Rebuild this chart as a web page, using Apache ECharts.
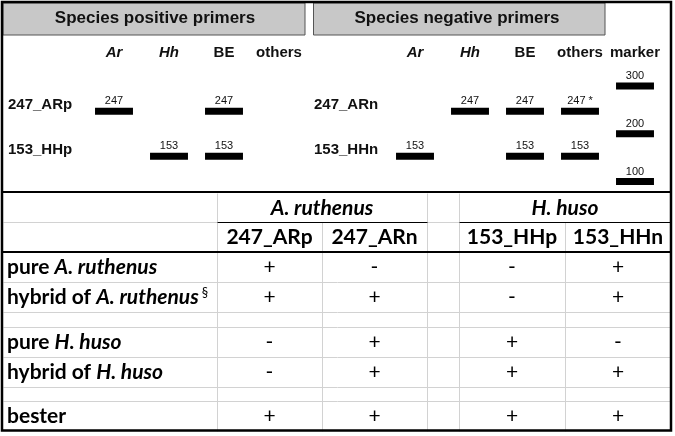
<!DOCTYPE html>
<html><head><meta charset="utf-8">
<script src="https://cdn.jsdelivr.net/npm/echarts@6/dist/echarts.min.js"></script>
<style>html,body{margin:0;padding:0;background:#fff}#c{width:675px;height:436px}</style>
</head><body><div id="c"></div><script>
// ---------- data ----------
const panelTitles = ['Species positive primers', 'Species negative primers'];
const posLanes = ['Ar', 'Hh', 'BE', 'others'];
const negLanes = ['Ar', 'Hh', 'BE', 'others', 'marker'];
const italicLanes = ['Ar', 'Hh'];
const posPrimers = ['247_ARp', '153_HHp'];
const negPrimers = ['247_ARn', '153_HHn'];
const primerSizes = [247, 153];
// [lane, size (bp), label]
const posBands = [['Ar', 247, '247'], ['BE', 247, '247'], ['Hh', 153, '153'], ['BE', 153, '153']];
const negBands = [['Hh', 247, '247'], ['BE', 247, '247'], ['others', 247, '247 *'],
                  ['Ar', 153, '153'], ['BE', 153, '153'], ['others', 153, '153']];
const markerSizes = [300, 200, 100];

const tableGroups = ['A. ruthenus', 'H. huso'];
const tableColumns = ['247_ARp', '247_ARn', '153_HHp', '153_HHn'];
const tableRows = ['pure A. ruthenus', 'hybrid of A. ruthenus§', '', 'pure H. huso', 'hybrid of H. huso', '', 'bester'];
const result247ARp = ['+', '+', '', '-', '-', '', '+'];
const result247ARn = ['-', '+', '', '+', '+', '', '+'];
const result153HHp = ['-', '-', '', '+', '+', '', '+'];
const result153HHn = ['+', '+', '', '-', '+', '', '+'];
const results = [result247ARp, result247ARn, result153HHp, result153HHn];

// ---------- layout ----------
const GEL_FONT = '"Liberation Sans", Arial, sans-serif';
const TAB_FONT = 'Lato, "Noto Sans", sans-serif';
const TAB_SIZE = 21;
const colW = [214, 105, 105, 32, 106, 106];
const rowH = [29, 30, 30, 30, 15, 30, 30, 14, 30];
const colE = [0]; colW.forEach(w => colE.push(colE[colE.length - 1] + w));
const rowE = [0]; rowH.forEach(h => rowE.push(rowE[rowE.length - 1] + h));
const dataCols = [1, 2, 4, 5];
const groupSpans = [[1, 2], [4, 5]];
const HEADER_ROWS = 2;

const chart = echarts.init(document.getElementById('c'));

function gelXAxis(lanes, gi) {
  return {
    type: 'category', gridIndex: gi, data: lanes, position: 'top',
    axisLine: {show: false}, axisTick: {show: false}, splitLine: {show: false},
    axisLabel: {
      interval: 0, margin: 26, fontSize: 15, fontWeight: 'bold', color: '#111', fontFamily: GEL_FONT,
      formatter: v => italicLanes.includes(v) ? '{i|' + v + '}' : v,
      rich: {i: {fontStyle: 'italic', fontWeight: 'bold', fontSize: 15, color: '#111', fontFamily: GEL_FONT}}
    }
  };
}
function gelYAxis(primers, gi, margin) {
  return {
    type: 'value', gridIndex: gi, min: 100, max: 300,
    axisLine: {show: false}, axisTick: {show: false}, splitLine: {show: false},
    axisLabel: {
      customValues: primerSizes, margin: margin, align: 'left', verticalAlign: 'bottom', lineHeight: 12,
      fontSize: 15, fontWeight: 'bold', color: '#111', fontFamily: GEL_FONT,
      formatter: v => primers[primerSizes.indexOf(v)] || ''
    }
  };
}
function bandSeries(bands, lanes, ai) {
  return {
    type: 'custom', coordinateSystem: 'cartesian2d', xAxisIndex: ai, yAxisIndex: ai, clip: false,
    data: bands.map(b => [lanes.indexOf(b[0]), b[1]]),
    renderItem: (params, api) => {
      const p = api.coord([api.value(0), api.value(1)]);
      const w = api.size([1, 0])[0] * 0.69;
      const h = 7;
      return {type: 'group', children: [
        {type: 'rect', shape: {x: p[0] - w / 2, y: p[1] - h / 2, width: w, height: h}, style: {fill: '#000'}},
        {type: 'text', x: p[0], y: p[1] - h / 2 - 1,
         style: {text: bands[params.dataIndex][2], align: 'center', verticalAlign: 'bottom',
                 fontSize: 11, fontFamily: GEL_FONT, fill: '#111'}}
      ]};
    }
  };
}
const markerBands = markerSizes.map(s => ['marker', s, String(s)]);

function richRow(s) {
  return s.split(/(A\. ruthenus|H\. huso|§)/).filter(t => t).map(t => {
    if (t === '§') return '{sup|§}';
    if (tableGroups.includes(t)) return '{bi|' + t + '}';
    return '{b|' + t + '}';
  }).join('');
}
const tabRich = {
  b: {fontSize: TAB_SIZE, fontWeight: 'bold', fontFamily: TAB_FONT, color: '#000'},
  bi: {fontSize: TAB_SIZE, fontWeight: 'bold', fontStyle: 'italic', fontFamily: TAB_FONT, color: '#000'},
  sup: {fontSize: 13, fontFamily: TAB_FONT, color: '#000', verticalAlign: 'top', padding: [0, 0, 0, 3]}
};
const midRow = r => (rowE[r] + rowE[r + 1]) / 2;
const midCol = c => (colE[c] + colE[c + 1]) / 2;

function textSeries(items, makeText, alignLeft) {
  return {
    type: 'custom', coordinateSystem: 'cartesian2d', xAxisIndex: 2, yAxisIndex: 2, clip: false, z: 5,
    data: items.map(it => [it.x, it.y]),
    renderItem: (params, api) => {
      const p = api.coord([api.value(0), api.value(1)]);
      return {type: 'text', x: p[0], y: p[1],
        style: Object.assign({align: alignLeft ? 'left' : 'center', verticalAlign: 'middle', rich: tabRich},
                             makeText(items[params.dataIndex]))};
    }
  };
}

const groupItems = tableGroups.map((g, i) => ({x: (colE[groupSpans[i][0]] + colE[groupSpans[i][1] + 1]) / 2, y: midRow(0) + 1, t: g}));
const colItems = tableColumns.map((c, i) => ({x: midCol(dataCols[i]), y: midRow(1), t: c}));
const rowItems = tableRows.map((r, i) => ({x: 4, y: midRow(HEADER_ROWS + i), t: r})).filter(it => it.t);
const cellItems = [];
results.forEach((col, ci) => col.forEach((v, ri) => { if (v) cellItems.push({x: midCol(dataCols[ci]), y: midRow(HEADER_ROWS + ri), t: v}); }));

const gridLinesSeries = {
  type: 'custom', coordinateSystem: 'cartesian2d', xAxisIndex: 2, yAxisIndex: 2, clip: false, z: 3,
  data: [[0, 0]],
  renderItem: (params, api) => {
    const ch = [];
    const line = (x1, y1, x2, y2, stroke, lw) => {
      const a = api.coord([x1, y1]), b = api.coord([x2, y2]);
      const o = lw === 1 ? 0.5 : 0;
      ch.push({type: 'line', shape: {x1: Math.round(a[0]) + o, y1: Math.round(a[1]) + o, x2: Math.round(b[0]) + o, y2: Math.round(b[1]) + o},
               style: {stroke: stroke, lineWidth: lw}});
    };
    const last = colE[colE.length - 1], bottom = rowE[rowE.length - 1];
    for (let i = 1; i < colE.length - 1; i++) {
      const inGroup = groupSpans.some(s => i > s[0] && i <= s[1]);
      line(colE[i], inGroup ? rowE[1] : rowE[0], colE[i], bottom, '#d2d2d2', 1);
    }
    for (let r = 1; r < rowE.length - 1; r++) {
      if (r === HEADER_ROWS) continue;
      line(colE[0], rowE[r], last, rowE[r], '#d2d2d2', 1);
    }
    groupSpans.forEach(s => line(colE[s[0]], rowE[1], colE[s[1] + 1], rowE[1], '#000', 1));
    line(colE[0], rowE[HEADER_ROWS], last, rowE[HEADER_ROWS], '#000', 2);
    return {type: 'group', children: ch};
  }
};

const option = {
  backgroundColor: '#fff',
  animation: false,
  grid: [
    {left: 86.5, width: 220, top: 86, height: 95.5},
    {left: 387.5, width: 275, top: 86, height: 95.5},
    {left: 3, top: 193, width: colE[colE.length - 1], height: rowE[rowE.length - 1]}
  ],
  xAxis: [gelXAxis(posLanes, 0), gelXAxis(negLanes, 1),
          {type: 'value', gridIndex: 2, min: 0, max: colE[colE.length - 1], show: false}],
  yAxis: [gelYAxis(posPrimers, 0, 78.5), gelYAxis(negPrimers, 1, 73.5),
          {type: 'value', gridIndex: 2, min: 0, max: rowE[rowE.length - 1], inverse: true, show: false}],
  graphic: [
    {type: 'rect', shape: {x: 3, y: 3, width: 302, height: 32}, style: {fill: '#c8c8c8', stroke: '#555', lineWidth: 1}, z: 1},
    {type: 'rect', shape: {x: 313.5, y: 3, width: 291.5, height: 32}, style: {fill: '#c8c8c8', stroke: '#555', lineWidth: 1}, z: 1},
    {type: 'text', x: 155, y: 18, style: {text: panelTitles[0], align: 'center', verticalAlign: 'middle', fontSize: 17, fontWeight: 'bold', fontFamily: GEL_FONT, fill: '#111'}, z: 2},
    {type: 'text', x: 457, y: 18, style: {text: panelTitles[1], align: 'center', verticalAlign: 'middle', fontSize: 17, fontWeight: 'bold', fontFamily: GEL_FONT, fill: '#111'}, z: 2},
    {type: 'line', shape: {x1: 2, y1: 192, x2: 671, y2: 192}, style: {stroke: '#000', lineWidth: 2}, z: 10},
    {type: 'rect', shape: {x: 2, y: 2, width: 669, height: 428.5}, style: {fill: null, stroke: '#000', lineWidth: 2.5}, z: 10}
  ],
  series: [
    bandSeries(posBands, posLanes, 0),
    bandSeries(negBands.concat(markerBands), negLanes, 1),
    gridLinesSeries,
    textSeries(groupItems, it => ({text: '{bi|' + it.t + '}'})),
    textSeries(colItems, it => ({text: '{b|' + it.t + '}'})),
    textSeries(rowItems, it => ({text: richRow(it.t)}), true),
    textSeries(cellItems, it => ({text: it.t, fontSize: TAB_SIZE, fontFamily: TAB_FONT, fill: '#000'}))
  ]
};
chart.setOption(option);
</script></body></html>
